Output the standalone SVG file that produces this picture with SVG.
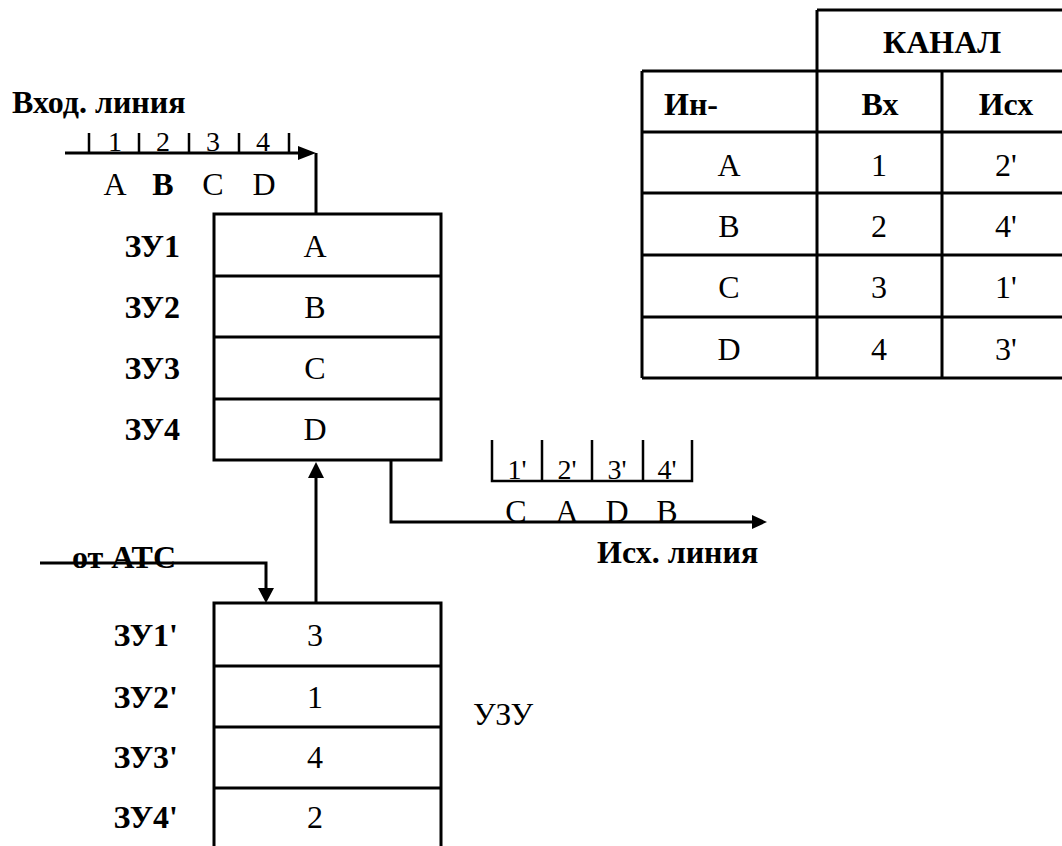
<svg xmlns="http://www.w3.org/2000/svg" width="1062" height="846" viewBox="0 0 1062 846">
<style>
text{font-family:"Liberation Serif","Times New Roman",serif;font-size:32px;fill:#000}
.b{font-weight:bold}
.c{text-anchor:middle}
.e{text-anchor:end}
.s{font-size:28px}
.ln{stroke:#000;stroke-width:3;fill:none}
.tk{stroke:#000;stroke-width:2.5;fill:none}
.ah{fill:#000}
</style>
<rect width="1062" height="846" fill="#fff"/>

<g id="table">
  <path class="ln" d="M817,10 H1062 M817,10 V378 M642,71 H1062 M642,132 H1062 M642,193 H1062 M642,255 H1062 M642,317 H1062 M642,378 H1062 M642,71 V378 M942,71 V378"/>
  <text class="b c" x="942" y="53">КАНАЛ</text>
  <text class="b" x="664" y="115">Ин-</text>
  <text class="b c" x="880" y="115">Вх</text>
  <text class="b c" x="1006" y="115">Исх</text>
  <text class="c" x="729" y="176">A</text><text class="c" x="879" y="176">1</text><text class="c" x="1006" y="176">2'</text>
  <text class="c" x="729" y="237">B</text><text class="c" x="879" y="237">2</text><text class="c" x="1006" y="237">4'</text>
  <text class="c" x="729" y="298">C</text><text class="c" x="879" y="298">3</text><text class="c" x="1006" y="298">1'</text>
  <text class="c" x="729" y="360">D</text><text class="c" x="879" y="360">4</text><text class="c" x="1006" y="360">3'</text>
</g>

<g id="zu">
  <rect class="ln" x="214" y="214" width="227" height="246"/>
  <path class="ln" d="M214,276 H441 M214,337 H441 M214,399 H441"/>
  <text class="b e" x="180" y="257">ЗУ1</text>
  <text class="b e" x="180" y="318">ЗУ2</text>
  <text class="b e" x="180" y="379">ЗУ3</text>
  <text class="b e" x="180" y="440">ЗУ4</text>
  <text class="c" x="315" y="257">A</text>
  <text class="c" x="315" y="318">B</text>
  <text class="c" x="315" y="379">C</text>
  <text class="c" x="315" y="440">D</text>
</g>

<g id="uzu">
  <path class="ln" d="M214,860 V603 H441 V860 M214,666 H441 M214,727 H441 M214,788 H441"/>
  <text class="b e" x="178" y="646">ЗУ1'</text>
  <text class="b e" x="178" y="708">ЗУ2'</text>
  <text class="b e" x="178" y="768">ЗУ3'</text>
  <text class="b e" x="178" y="828">ЗУ4'</text>
  <text class="c" x="315" y="646">3</text>
  <text class="c" x="315" y="708">1</text>
  <text class="c" x="315" y="768">4</text>
  <text class="c" x="315" y="828">2</text>
  <text x="473" y="725">УЗУ</text>
</g>

<g id="input-line">
  <text class="b" x="12" y="113">Вход. линия</text>
  <path class="tk" d="M89,133 V153 M139,133 V153 M189,133 V153 M239,133 V153 M289,133 V153"/>
  <text class="s c" x="115" y="151">1</text>
  <text class="s c" x="163" y="151">2</text>
  <text class="s c" x="213" y="151">3</text>
  <text class="s c" x="263" y="151">4</text>
  <text class="c" x="115" y="195">A</text>
  <text class="b c" x="163" y="195">B</text>
  <text class="c" x="213" y="195">C</text>
  <text class="c" x="264" y="195">D</text>
</g>

<g id="output-line">
  <path class="tk" d="M492,440 V481 H692 V440 M542,440 V481 M592,440 V481 M643,440 V481"/>
  <text class="s c" x="517" y="479">1'</text>
  <text class="s c" x="567" y="479">2'</text>
  <text class="s c" x="617" y="479">3'</text>
  <text class="s c" x="667" y="479">4'</text>
  <text class="c" x="516" y="522">C</text>
  <text class="c" x="567" y="522">A</text>
  <text class="c" x="617" y="522">D</text>
  <text class="c" x="667" y="522">B</text>
  <text class="b" x="597" y="563">Исх. линия</text>
</g>

<g id="ats">
  <text class="b" x="72" y="568">от АТС</text>
</g>

<g id="connectors">
  <path class="ln" d="M65,153 H300"/>
  <polygon class="ah" points="298,146 316,153 298,160"/>
  <path class="ln" d="M316,153 V214"/>
  <path class="ln" d="M316,603 V476"/>
  <polygon class="ah" points="316,462 308,478 324,478"/>
  <path class="ln" d="M391,460 V522 H754"/>
  <polygon class="ah" points="767,522 752,515 752,529"/>
  <path class="ln" d="M40,563 H266 V590"/>
  <polygon class="ah" points="266,603 258,588 274,588"/>
</g>
</svg>
